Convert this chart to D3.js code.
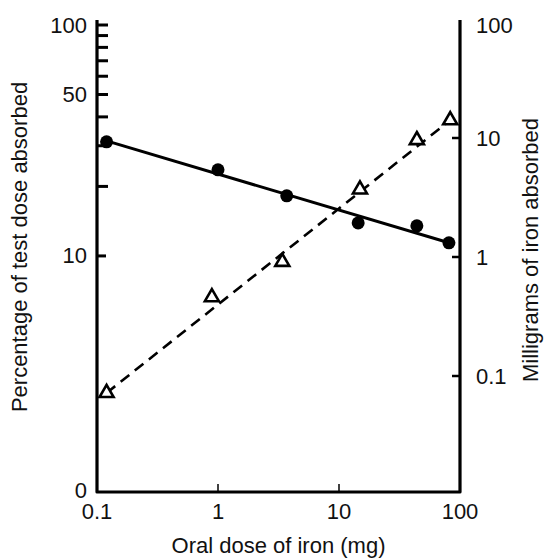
<!DOCTYPE html>
<html>
<head>
<meta charset="utf-8">
<script src="https://cdn.jsdelivr.net/npm/d3@7"></script>
<style>
  html, body { margin: 0; padding: 0; background: #fff; }
  svg { display: block; }
  text { font-family: "Liberation Sans", Arial, sans-serif; fill: #111; }
</style>
</head>
<body>
<svg id="chart" width="556" height="560"></svg>
<script>
// ---- data ----
const pctDose = [0.12, 1.0, 3.7, 14.4, 44, 81];          // oral dose (mg), filled circles
const pctAbsorbed = [31.2, 23.6, 18.2, 13.9, 13.5, 11.4]; // % of test dose absorbed
const mgDose = [0.12, 0.89, 3.4, 14.9, 44, 83];           // oral dose (mg), open triangles
const mgAbsorbed = [0.072, 0.46, 0.91, 3.7, 9.6, 14.1];   // mg of iron absorbed
const pctFitX = [0.12, 81], pctFitY = [31.5, 11.4];       // solid fitted line
const mgFitX = [0.12, 83], mgFitY = [0.072, 14.1];        // dashed fitted line
const xTicks = [0.1, 1, 10, 100];
const xTickLabels = ["0.1", "1", "10", "100"];
const leftMinor = [20, 30, 40, 50, 60, 70, 80, 90, 100];
const leftLabels = [[100, "100"], [50, "50"], [10, "10"]];
const rightTicks = [10, 1, 0.1];
const rightLabels = [[100, "100"], [10, "10"], [1, "1"], [0.1, "0.1"]];

// ---- scales ----
const svg = d3.select("#chart");
const FS = 22;
const L = 97, R = 460, T = 20, B = 492;
const x = d3.scaleLog().domain([0.1, 100]).range([L, R]);
const yL = d3.scaleLog().domain([0.95, 100]).range([B, 25]);
const yR = d3.scaleLog().domain([0.01, 100]).range([495, 19]);

// frame
svg.append("path")
  .attr("d", `M${L},${T} V${B} H${R} V${T}`)
  .attr("fill", "none").attr("stroke", "#000").attr("stroke-width", 3.2)
  .attr("stroke-linejoin", "round");

// left ticks
svg.append("g").selectAll("line").data(leftMinor).join("line")
  .attr("x1", L).attr("x2", L + 11)
  .attr("y1", d => yL(d)).attr("y2", d => yL(d))
  .attr("stroke", "#000").attr("stroke-width", 3);
svg.append("line").attr("x1", L).attr("x2", L + 9)
  .attr("y1", yL(10)).attr("y2", yL(10)).attr("stroke", "#000").attr("stroke-width", 3);

// left labels
svg.append("g").selectAll("text").data(leftLabels).join("text")
  .attr("x", L - 10).attr("y", d => yL(d[0]))
  .attr("text-anchor", "end").attr("dominant-baseline", "central")
  .attr("font-size", FS).text(d => d[1]);
svg.append("text").attr("x", L - 10).attr("y", B - 2)
  .attr("text-anchor", "end").attr("dominant-baseline", "central")
  .attr("font-size", FS).text("0");

// right ticks
svg.append("g").selectAll("line").data(rightTicks).join("line")
  .attr("x1", R).attr("x2", R - 8)
  .attr("y1", d => yR(d)).attr("y2", d => yR(d))
  .attr("stroke", "#000").attr("stroke-width", 2.5);
svg.append("g").selectAll("text").data(rightLabels).join("text")
  .attr("x", R + 16).attr("y", d => d[0] === 100 ? 25 : yR(d[0]))
  .attr("text-anchor", "start").attr("dominant-baseline", "central")
  .attr("font-size", FS).text(d => d[1]);

// bottom ticks
svg.append("g").selectAll("line").data([1, 10]).join("line")
  .attr("x1", d => x(d)).attr("x2", d => x(d))
  .attr("y1", B).attr("y2", B - 8)
  .attr("stroke", "#000").attr("stroke-width", 1.5);
svg.append("g").selectAll("text").data(xTicks).join("text")
  .attr("x", (d) => x(d)).attr("y", B + 27)
  .attr("text-anchor", "middle").attr("font-size", FS)
  .text((d, i) => xTickLabels[i]);

// axis titles
svg.append("text").attr("x", (L + R) / 2).attr("y", 553)
  .attr("text-anchor", "middle").attr("font-size", FS)
  .text("Oral dose of iron (mg)");
svg.append("text")
  .attr("transform", `translate(27,247) rotate(-90)`)
  .attr("text-anchor", "middle").attr("font-size", FS)
  .text("Percentage of test dose absorbed");
svg.append("text")
  .attr("transform", `translate(538,250) rotate(-90)`)
  .attr("text-anchor", "middle").attr("font-size", FS)
  .text("Milligrams of iron absorbed");

// fitted lines
const lineL = d3.line().x(d => x(d[0])).y(d => yL(d[1]));
const lineR = d3.line().x(d => x(d[0])).y(d => yR(d[1]));
svg.append("path").datum(d3.zip(pctFitX, pctFitY)).attr("d", lineL)
  .attr("fill", "none").attr("stroke", "#000").attr("stroke-width", 3);
svg.append("path").datum(d3.zip(mgFitX, mgFitY)).attr("d", lineR)
  .attr("fill", "none").attr("stroke", "#000").attr("stroke-width", 2.6)
  .attr("stroke-dasharray", "11,7");

// markers
svg.append("g").selectAll("circle").data(d3.zip(pctDose, pctAbsorbed)).join("circle")
  .attr("cx", d => x(d[0])).attr("cy", d => yL(d[1])).attr("r", 6.5)
  .attr("fill", "#000");
const tri = d3.symbol().type(d3.symbolTriangle).size(85);
svg.append("g").selectAll("path").data(d3.zip(mgDose, mgAbsorbed)).join("path")
  .attr("d", tri)
  .attr("transform", d => `translate(${x(d[0])},${yR(d[1])})`)
  .attr("fill", "#fff").attr("stroke", "#000").attr("stroke-width", 2.6);
</script>
</body>
</html>
